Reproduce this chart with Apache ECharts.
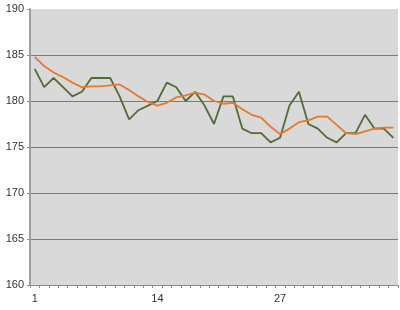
<!DOCTYPE html>
<html><head><meta charset="utf-8">
<script src="https://cdn.jsdelivr.net/npm/echarts@6/dist/echarts.min.js"></script>
<style>html,body{margin:0;padding:0;background:#fff}#c{width:400px;height:310px}</style>
</head><body><div id="c"></div>
<script>
var categories = [];
for (var i = 1; i <= 39; i++) categories.push(String(i));
var seriesRaw = [183.5,181.5,182.5,181.5,180.5,181.0,182.5,182.5,182.5,180.5,178.0,179.0,179.5,180.0,182.0,181.5,180.0,181.0,179.5,177.5,180.5,180.5,177.0,176.5,176.5,175.5,176.0,179.5,181.0,177.5,177.0,176.0,175.5,176.5,176.5,178.5,177.0,177.0,176.0];
var seriesAvg = [184.8,183.8,183.1,182.6,182.0,181.5,181.6,181.6,181.7,181.8,181.2,180.5,179.9,179.5,179.8,180.4,180.6,180.9,180.7,180.0,179.7,179.8,179.1,178.5,178.2,177.2,176.4,177.0,177.7,177.9,178.3,178.3,177.4,176.5,176.4,176.7,177.0,177.1,177.1];
var yTicks = [160,165,170,175,180,185,190];

var chart = echarts.init(document.getElementById('c'));
chart.setOption({
  animation: false,
  grid: {left: 30, right: 2, top: 9, bottom: 25, show: true, backgroundColor: '#d9d9d9', borderWidth: 0},
  xAxis: {
    type: 'category', data: categories, boundaryGap: true,
    axisLine: {lineStyle: {color: '#8c8c8c', width: 1}},
    axisTick: {show: true, interval: 0, length: 3, lineStyle: {color: '#8c8c8c'}},
    axisLabel: {interval: 12, color: '#333', fontFamily: 'Liberation Sans', fontSize: 11, margin: 8},
    splitLine: {show: false}
  },
  yAxis: {
    type: 'value', min: yTicks[0], max: yTicks[yTicks.length-1], interval: 5,
    axisLine: {show: true, lineStyle: {color: '#a0a0a0', width: 2}},
    axisTick: {show: true, length: 3, lineStyle: {color: '#8c8c8c'}},
    axisLabel: {color: '#333', fontFamily: 'Liberation Sans', fontSize: 11, margin: 6},
    splitLine: {show: true, showMaxLine: false, showMinLine: false, lineStyle: {color: '#7a7a7a', width: 1}}
  },
  series: [
    {type: 'line', data: seriesRaw, symbol: 'none', lineStyle: {color: '#556b35', width: 1.8}, itemStyle: {color: '#556b35'}},
    {type: 'line', data: seriesAvg, symbol: 'none', lineStyle: {color: '#e8782c', width: 1.8}, itemStyle: {color: '#e8782c'}}
  ]
});
</script></body></html>
